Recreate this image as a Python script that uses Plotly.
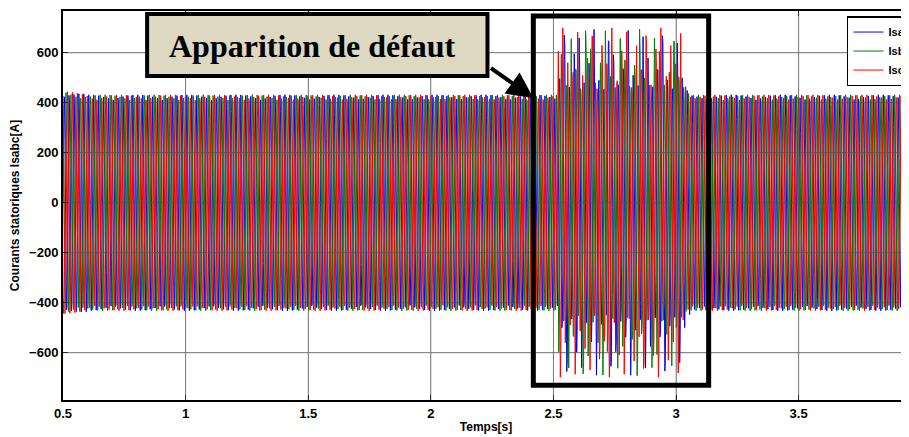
import numpy as np
import plotly.graph_objects as go

# Stator currents of the machine
f_supply = 50.0            # Hz
amp_healthy = 432.0        # A, steady state peak
amp_start = [445, 442, 440, 438, 436]  # first cycles after t=0.5 s
t_start, t_end = 0.5, 3.95
t_step = 0.00202           # s, logging step of the simulation
t_fault = 2.52             # fault appears
phase_shift = {'Isa': 0.0, 'Isb': -2 * np.pi / 3, 'Isc': 2 * np.pi / 3}

# peak current per cycle during the fault (and the few cycles after it)
fault_amp = {
    'Isa': [520, 690, 470, 600, 660, 480, 560, 700, 500, 470, 680, 610, 480, 540, 690,
            510, 470, 670, 590, 480, 560, 690, 500, 460, 640, 500, 450],
    'Isb': [600, 480, 680, 560, 470, 700, 620, 480, 560, 690, 510, 470, 680, 600, 480,
            560, 700, 500, 470, 660, 610, 480, 540, 680, 520, 470, 440],
    'Isc': [700, 560, 490, 690, 520, 600, 700, 470, 640, 560, 700, 480, 610, 690, 470,
            650, 560, 690, 480, 620, 700, 470, 630, 560, 690, 480, 445],
}
colors = {'Isa': '#0000ff', 'Isb': '#008000', 'Isc': '#ff0000'}

x_ticks = [0.5, 1, 1.5, 2, 2.5, 3, 3.5]
y_ticks = [-600, -400, -200, 0, 200, 400, 600]

t = np.arange(t_start, t_end, t_step)

fig = go.Figure()
for name in ['Isa', 'Isb', 'Isc']:
    ph = phase_shift[name]
    amp = np.full(t.size, amp_healthy)
    k0 = np.floor((t - t_start) * f_supply).astype(int)
    for i, a in enumerate(amp_start):
        amp[k0 == i] = a
    k = np.floor((t - t_fault) * f_supply).astype(int)
    for i, a in enumerate(fault_amp[name]):
        amp[k == i] = a
    y = amp * np.sin(2 * np.pi * f_supply * t + ph)
    fig.add_trace(go.Scatter(x=t, y=y, mode='lines', name=name,
                             line=dict(color=colors[name], width=1)))

# matlab draws its grid over the curves
for v in x_ticks[1:]:
    fig.add_shape(type='line', x0=v, x1=v, y0=0, y1=1, yref='paper',
                  line=dict(color='rgba(90,90,90,0.6)', width=1))
for v in y_ticks:
    fig.add_shape(type='line', x0=0, x1=1, xref='paper', y0=v, y1=v,
                  line=dict(color='rgba(90,90,90,0.6)', width=1))

# fault zone frame
fig.add_shape(type='rect', x0=2.418, x1=3.133, y0=-730, y1=747,
              line=dict(color='black', width=5))

# label box
fig.add_shape(type='rect', x0=0.843, x1=2.231, y0=507, y1=755,
              fillcolor='#dcd8c2', line=dict(color='black', width=4))
fig.add_annotation(x=1.516, y=627, text='<b>Apparition de défaut</b>', showarrow=False,
                   font=dict(family='Liberation Serif', size=32, color='black'))
fig.add_annotation(x=2.418, y=419, ax=2.239, ay=543, axref='x', ayref='y',
                   text='', showarrow=True, arrowhead=2, arrowsize=1.3,
                   arrowwidth=4, arrowcolor='black')

axis_font = dict(family='Liberation Sans', size=13, color='black', weight='bold')
fig.update_xaxes(range=[t_start, t_end], tickvals=x_ticks, ticktext=[str(v) for v in x_ticks],
                 showline=True, linecolor='black', linewidth=2, mirror='ticks',
                 ticks='inside', ticklen=5, tickcolor='black',
                 showgrid=True, gridcolor='#b0b0b0', gridwidth=1, zeroline=False,
                 tickfont=axis_font, automargin=False,
                 title=dict(text='Temps[s]', standoff=3,
                            font=dict(family='Liberation Sans', size=12, color='black', weight='bold')))
fig.update_yaxes(range=[-789, 767], tickvals=y_ticks,
                 showline=True, linecolor='black', linewidth=2, mirror=False,
                 ticks='inside', ticklen=5, tickcolor='black',
                 showgrid=True, gridcolor='#b0b0b0', gridwidth=1, zeroline=False,
                 tickfont=axis_font, automargin=False,
                 title=dict(text='Courants statoriques Isabc[A]', standoff=8,
                            font=dict(family='Liberation Sans', size=12, color='black', weight='bold')))

# the page body adds an 8 px offset, margins below take it into account
fig.update_layout(
    width=909, height=437,
    margin=dict(l=55, r=8, t=3, b=45, autoexpand=False),
    plot_bgcolor='white', paper_bgcolor='white',
    showlegend=True,
    legend=dict(x=0.9267, y=0.987, xanchor='left', yanchor='top',
                bgcolor='white', bordercolor='black', borderwidth=1.5,
                font=dict(family='Liberation Sans', size=11, color='black', weight='bold'),
                itemwidth=30, tracegroupgap=0),
)

fig.write_html('out.html')
